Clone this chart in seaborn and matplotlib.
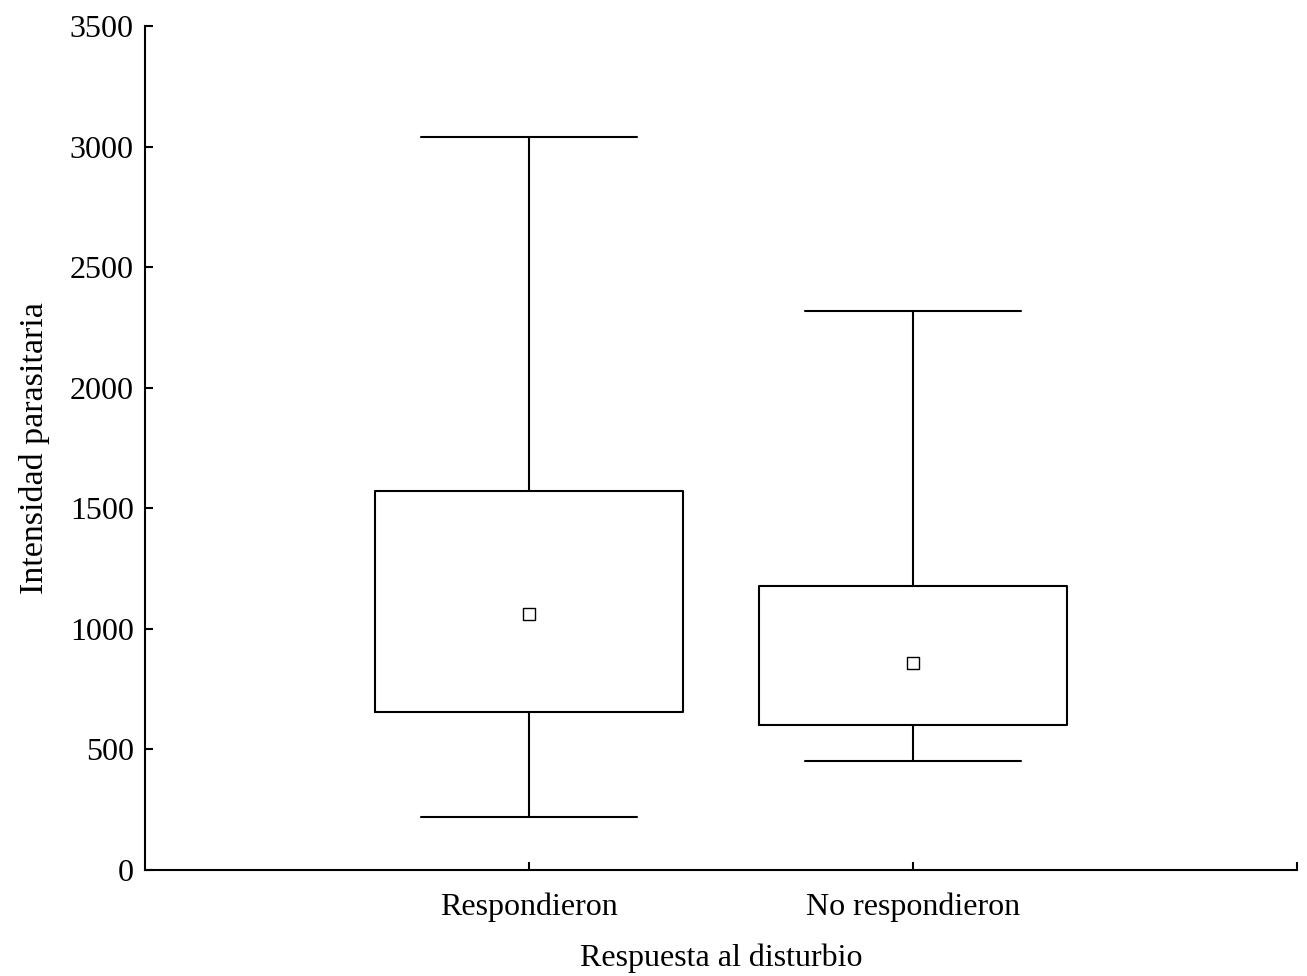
import matplotlib
matplotlib.use("Agg")
import matplotlib.pyplot as plt
import seaborn as sns
import pandas as pd

categories = ["Respondieron", "No respondieron"]
minimum = [220, 452]
q1 = [655, 601]
center = [1062, 859]
q3 = [1572, 1178]
maximum = [3040, 2318]
yticks = [0, 500, 1000, 1500, 2000, 2500, 3000, 3500]

sns.set_theme(style="ticks")
plt.rcParams["font.family"] = ["Liberation Serif", "DejaVu Serif"]

rows = []
for i, c in enumerate(categories):
    for v in (minimum[i], q1[i], center[i], q3[i], maximum[i]):
        rows.append({"grupo": c, "valor": v})
df = pd.DataFrame(rows)
dc = pd.DataFrame({"grupo": categories, "valor": center})

fig = plt.figure(figsize=(13.07, 9.76), dpi=100)
ax = fig.add_axes([0.1109, 0.1086, 0.8814, 0.8648])

lw = 1.5
fs = 23
sns.boxplot(data=df, x="grupo", y="valor", order=categories, whis=(0, 100),
            width=0.8, fill=False, color="black", linewidth=lw,
            medianprops={"visible": False}, capwidths=0.5625,
            boxprops={"color": "black"}, whiskerprops={"color": "black"},
            capprops={"color": "black"}, showfliers=False, ax=ax)
sns.scatterplot(data=dc, x="grupo", y="valor", marker="s", s=70,
                facecolor="white", edgecolor="black", linewidth=1.0,
                ax=ax, zorder=5)

ax.set_xlim(-1, 2)
ax.set_ylim(0, 3500)
ax.set_yticks(yticks)
ax.set_yticklabels([str(t) for t in yticks], fontsize=fs)
ax.set_xticks([0, 1])
ax.set_xticklabels(categories, fontsize=fs)
ax.set_xticks([2], minor=True)
ax.tick_params(axis="both", which="both", direction="in", length=6, width=lw,
               color="black", labelcolor="black")
ax.tick_params(axis="y", pad=8)
ax.tick_params(axis="x", pad=16)
ax.set_xlabel("Respuesta al disturbio", fontsize=fs, labelpad=16, color="black")
ax.set_ylabel("Intensidad parasitaria", fontsize=24.5, labelpad=14, color="black")
sns.despine(ax=ax)
for s in ("left", "bottom"):
    ax.spines[s].set_linewidth(lw)
    ax.spines[s].set_color("black")

fig.savefig("out.png", dpi=100)
